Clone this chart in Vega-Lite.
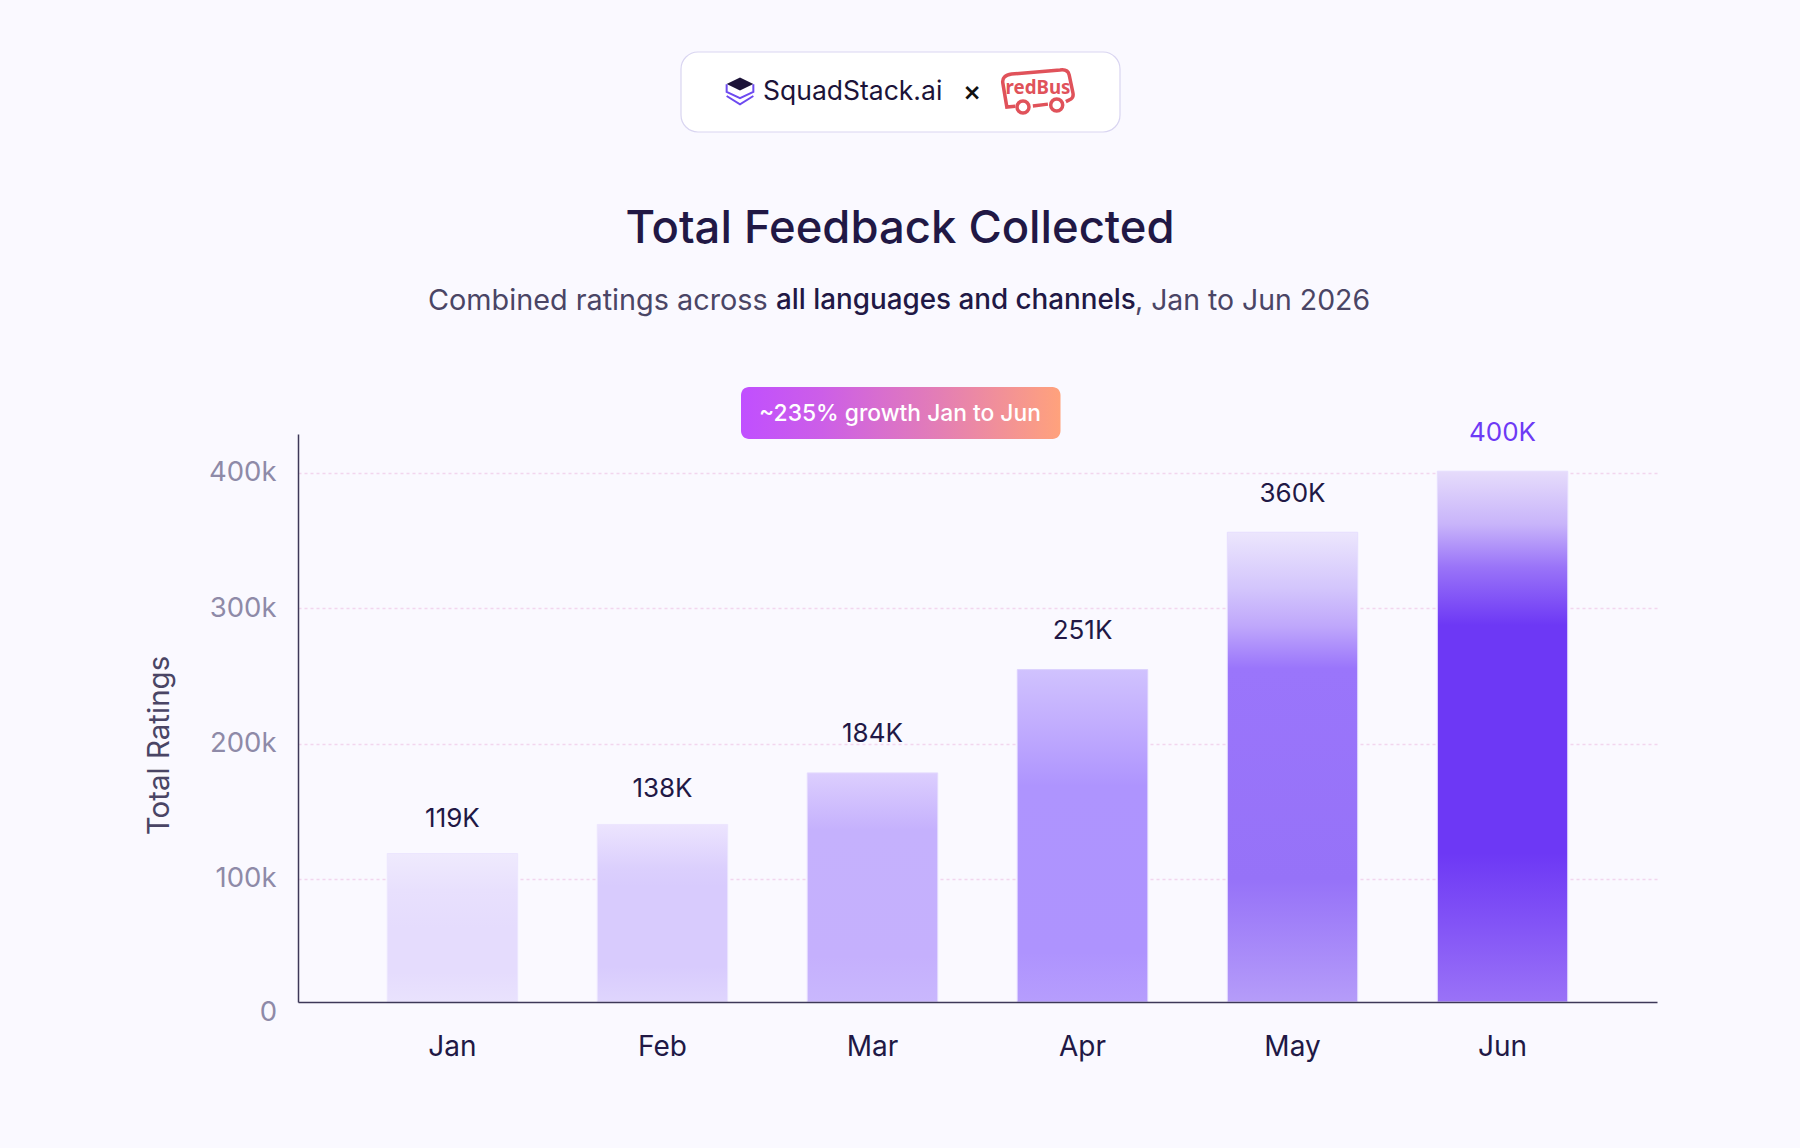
{
  "$schema": "https://vega.github.io/schema/vega-lite/v6.json",
  "width": 1359,
  "height": 568,
  "autosize": "none",
  "padding": {"left": 298, "top": 434, "right": 143, "bottom": 146},
  "background": "#faf9ff",
  "config": {
    "view": {"stroke": null},
    "font": "Inter",
    "text": {"font": "Inter"}
  },
  "resolve": {"scale": {"x": "independent", "y": "independent"}},
  "layer": [
    {
      "data": {
        "values": [
          {"month": "Jan", "value": 118.8, "label": "119K"},
          {"month": "Feb", "value": 140.3, "label": "138K"},
          {"month": "Mar", "value": 178.4, "label": "184K"},
          {"month": "Apr", "value": 254.7, "label": "251K"},
          {"month": "May", "value": 356.2, "label": "360K"},
          {"month": "Jun", "value": 401.3, "label": "400K"}
        ]
      },
      "encoding": {
        "x": {
          "field": "month",
          "type": "nominal",
          "sort": ["Jan", "Feb", "Mar", "Apr", "May", "Jun"],
          "title": null,
          "scale": {"domain": ["Jan", "Feb", "Mar", "Apr", "May", "Jun"], "paddingInner": 0.379, "paddingOuter": 0.425},
          "axis": {
            "zindex": 1,
            "ticks": false,
            "labelAngle": 0,
            "labelFontSize": 28,
            "labelColor": "#211845",
            "labelPadding": 31,
            "labelFont": "Inter",
            "domainColor": "#3d3858",
            "domainWidth": 1.5
          }
        },
        "y": {
          "field": "value",
          "type": "quantitative",
          "scale": {"domain": [9.1, 428.8]},
          "title": "Total Ratings",
          "axis": {
            "zindex": 0,
            "values": [100, 200, 300, 400],
            "labelExpr": "datum.value + 'k'",
            "ticks": false,
            "labelFontSize": 27.5,
            "labelColor": "#8e8aa8",
            "labelPadding": 22,
            "labelOffset": 0,
            "labelFont": "Inter",
            "domainColor": "#3d3858",
            "domainWidth": 1.5,
            "grid": true,
            "gridColor": "#f2d6ee",
            "gridWidth": 1.5,
            "gridDash": [3, 3],
            "titleFont": "Inter",
            "titleFontSize": 29.5,
            "titleFontWeight": 400,
            "titleColor": "#4a4565",
            "titleX": -139,
            "titleY": 311,
            "titleBaseline": "middle"
          }
        }
      },
      "layer": [
        {
          "transform": [{"filter": "datum.month === 'Jan'"}],
          "mark": {"type": "bar", "stroke": "#ece6fe", "strokeWidth": 1, "fill": {"gradient": "linear", "x1": 0, "y1": 0, "x2": 0, "y2": 1, "stops": [
            {"offset": 0, "color": "#efeafd"},
            {"offset": 0.25, "color": "#e8e0fd"},
            {"offset": 0.5, "color": "#e5dcfd"},
            {"offset": 0.8, "color": "#e5dcfd"},
            {"offset": 1, "color": "#e9e2fd"}
          ]}},
          "encoding": {"y2": {"datum": 9.1}}
        },
        {
          "transform": [{"filter": "datum.month === 'Feb'"}],
          "mark": {"type": "bar", "stroke": "#ece6fe", "strokeWidth": 1, "fill": {"gradient": "linear", "x1": 0, "y1": 0, "x2": 0, "y2": 1, "stops": [
            {"offset": 0, "color": "#ece4fe"},
            {"offset": 0.25, "color": "#dbcffd"},
            {"offset": 0.35, "color": "#d8cbfd"},
            {"offset": 0.8, "color": "#d8cbfd"},
            {"offset": 1, "color": "#dfd5fd"}
          ]}},
          "encoding": {"y2": {"datum": 9.1}}
        },
        {
          "transform": [{"filter": "datum.month === 'Mar'"}],
          "mark": {"type": "bar", "stroke": "#e4dafe", "strokeWidth": 1, "fill": {"gradient": "linear", "x1": 0, "y1": 0, "x2": 0, "y2": 1, "stops": [
            {"offset": 0, "color": "#dccefe"},
            {"offset": 0.25, "color": "#c5b1fd"},
            {"offset": 0.8, "color": "#c5b0fd"},
            {"offset": 1, "color": "#c9b7fd"}
          ]}},
          "encoding": {"y2": {"datum": 9.1}}
        },
        {
          "transform": [{"filter": "datum.month === 'Apr'"}],
          "mark": {"type": "bar", "stroke": "#dcd0fe", "strokeWidth": 1, "fill": {"gradient": "linear", "x1": 0, "y1": 0, "x2": 0, "y2": 1, "stops": [
            {"offset": 0, "color": "#d0c2fe"},
            {"offset": 0.15, "color": "#c3affe"},
            {"offset": 0.35, "color": "#ae94fe"},
            {"offset": 0.85, "color": "#ae93fe"},
            {"offset": 1, "color": "#b69dfd"}
          ]}},
          "encoding": {"y2": {"datum": 9.1}}
        },
        {
          "transform": [{"filter": "datum.month === 'May'"}],
          "mark": {"type": "bar", "stroke": "#e6defe", "strokeWidth": 1, "fill": {"gradient": "linear", "x1": 0, "y1": 0, "x2": 0, "y2": 1, "stops": [
            {"offset": 0, "color": "#ece6fd"},
            {"offset": 0.12, "color": "#d3c5fc"},
            {"offset": 0.2, "color": "#bfa7fb"},
            {"offset": 0.29, "color": "#9a75fb"},
            {"offset": 0.74, "color": "#9672f8"},
            {"offset": 1, "color": "#b59cf9"}
          ]}},
          "encoding": {"y2": {"datum": 9.1}}
        },
        {
          "transform": [{"filter": "datum.month === 'Jun'"}],
          "mark": {"type": "bar", "stroke": "#e6defe", "strokeWidth": 1, "fill": {"gradient": "linear", "x1": 0, "y1": 0, "x2": 0, "y2": 1, "stops": [
            {"offset": 0, "color": "#e6dcfb"},
            {"offset": 0.1, "color": "#c8b4fa"},
            {"offset": 0.18, "color": "#9a74f8"},
            {"offset": 0.29, "color": "#6d38f5"},
            {"offset": 0.72, "color": "#6d38f5"},
            {"offset": 1, "color": "#9a72f7"}
          ]}},
          "encoding": {"y2": {"datum": 9.1}}
        },
        {
          "transform": [{"filter": "datum.month === 'Jan' || datum.month === 'Feb'"}],
          "mark": {"type": "text", "dy": -35, "fontSize": 26, "fontWeight": 400, "baseline": "middle", "color": "#211845"},
          "encoding": {"text": {"field": "label"}}
        },
        {
          "transform": [{"filter": "datum.month !== 'Jan' && datum.month !== 'Feb'"}],
          "mark": {"type": "text", "dy": -38.5, "fontSize": 26, "fontWeight": 400, "baseline": "middle"},
          "encoding": {
            "text": {"field": "label"},
            "fontWeight": {"condition": {"test": "datum.month === 'Jun'", "value": 500}, "value": 400},
            "color": {
              "condition": {"test": "datum.month === 'Jun'", "value": "#6d3af5"},
              "value": "#211845"
            }
          }
        }
      ]
    },
    {
      "layer": [
        {
          "data": {"values": [{"text": "0"}]},
          "mark": {"type": "text", "fontSize": 27.5, "fontWeight": 400, "color": "#8e8aa8", "align": "right", "baseline": "middle"},
          "encoding": {
            "text": {"field": "text"},
            "x": {"datum": 277, "type": "quantitative", "axis": null, "scale": {"domain": [0, 1800], "range": [-298, 1502]}},
            "y": {"datum": 1013, "type": "quantitative", "axis": null, "scale": {"domain": [0, 1148], "range": [-434, 714]}}
          }
        },
        {
          "data": {"values": [{"part": "logo card"}]},
          "mark": {"type": "rect", "fill": "#ffffff", "stroke": "#d9d5f1", "strokeWidth": 1.2, "cornerRadius": 17},
          "encoding": {
            "x": {"datum": 681, "type": "quantitative", "axis": null, "scale": {"domain": [0, 1800], "range": [-298, 1502]}},
            "x2": {"datum": 1120},
            "y": {"datum": 52, "type": "quantitative", "axis": null, "scale": {"domain": [0, 1148], "range": [-434, 714]}},
            "y2": {"datum": 132}
          }
        },
        {
          "data": {"values": [{"part": "squadstack icon top"}]},
          "mark": {"type": "point", "shape": "M0,-.84 L.89,-.4 L0,.04 L-.89,-.4 Z", "size": 900, "filled": true, "color": "#1c1338", "opacity": 1},
          "encoding": {
            "x": {"datum": 740, "type": "quantitative", "axis": null, "scale": {"domain": [0, 1800], "range": [-298, 1502]}},
            "y": {"datum": 90, "type": "quantitative", "axis": null, "scale": {"domain": [0, 1148], "range": [-434, 714]}}
          }
        },
        {
          "data": {"values": [{"part": "squadstack icon layers"}]},
          "mark": {"type": "point", "shape": "M-.89,-.38 L-.89,.12 L0,.55 L.89,.12 L.89,-.38 M-.89,.4 L0,.96 L.89,.4", "size": 900, "filled": false, "stroke": "#6d4af0", "strokeWidth": 2, "opacity": 1},
          "encoding": {
            "x": {"datum": 740, "type": "quantitative", "axis": null, "scale": {"domain": [0, 1800], "range": [-298, 1502]}},
            "y": {"datum": 90, "type": "quantitative", "axis": null, "scale": {"domain": [0, 1148], "range": [-434, 714]}}
          }
        },
        {
          "data": {"values": [{"part": "bus body"}]},
          "mark": {"type": "point", "shape": "M-.14,.49 L.27,.44 M.76,.37 L.9,.3 Q.98,.25 .95,.12 L.85,-.36 Q.81,-.52 .6,-.49 L-.72,-.38 Q-.99,-.34 -.96,-.14 L-.85,.52 L-.62,.5", "size": 5378, "filled": false, "stroke": "#e0525a", "strokeWidth": 3.5, "opacity": 1},
          "encoding": {
            "x": {"datum": 1038, "type": "quantitative", "axis": null, "scale": {"domain": [0, 1800], "range": [-298, 1502]}},
            "y": {"datum": 88, "type": "quantitative", "axis": null, "scale": {"domain": [0, 1148], "range": [-434, 714]}}
          }
        },
        {
          "data": {"values": [{"part": "bus wheel"}]},
          "mark": {"type": "point", "shape": "circle", "size": 144, "filled": true, "fill": "#ffffff", "stroke": "#e0525a", "strokeWidth": 3.5, "opacity": 1},
          "encoding": {
            "x": {"datum": 1023, "type": "quantitative", "axis": null, "scale": {"domain": [0, 1800], "range": [-298, 1502]}},
            "y": {"datum": 107, "type": "quantitative", "axis": null, "scale": {"domain": [0, 1148], "range": [-434, 714]}}
          }
        },
        {
          "data": {"values": [{"part": "bus wheel"}]},
          "mark": {"type": "point", "shape": "circle", "size": 144, "filled": true, "fill": "#ffffff", "stroke": "#e0525a", "strokeWidth": 3.5, "opacity": 1},
          "encoding": {
            "x": {"datum": 1056.7, "type": "quantitative", "axis": null, "scale": {"domain": [0, 1800], "range": [-298, 1502]}},
            "y": {"datum": 105, "type": "quantitative", "axis": null, "scale": {"domain": [0, 1148], "range": [-434, 714]}}
          }
        },
        {
          "data": {"values": [{"text": "redBus"}]},
          "mark": {"type": "text", "fontSize": 18.7, "fontWeight": 700, "color": "#e0525a", "font": "Noto Sans", "align": "center", "baseline": "middle"},
          "encoding": {
            "text": {"field": "text"},
            "x": {"datum": 1038, "type": "quantitative", "axis": null, "scale": {"domain": [0, 1800], "range": [-298, 1502]}},
            "y": {"datum": 88, "type": "quantitative", "axis": null, "scale": {"domain": [0, 1148], "range": [-434, 714]}}
          }
        },
        {
          "data": {"values": [{"text": "SquadStack.ai"}]},
          "mark": {"type": "text", "fontSize": 26.5, "fontWeight": 400, "color": "#1c1338", "align": "left", "baseline": "alphabetic"},
          "encoding": {
            "text": {"field": "text"},
            "x": {"datum": 763, "type": "quantitative", "axis": null, "scale": {"domain": [0, 1800], "range": [-298, 1502]}},
            "y": {"datum": 100, "type": "quantitative", "axis": null, "scale": {"domain": [0, 1148], "range": [-434, 714]}}
          }
        },
        {
          "data": {"values": [{"text": "×"}]},
          "mark": {"type": "text", "fontSize": 28, "fontWeight": 500, "color": "#111111", "align": "center", "baseline": "middle"},
          "encoding": {
            "text": {"field": "text"},
            "x": {"datum": 972, "type": "quantitative", "axis": null, "scale": {"domain": [0, 1800], "range": [-298, 1502]}},
            "y": {"datum": 93, "type": "quantitative", "axis": null, "scale": {"domain": [0, 1148], "range": [-434, 714]}}
          }
        },
        {
          "data": {"values": [{"text": "Total Feedback Collected"}]},
          "mark": {"type": "text", "fontSize": 45.4, "fontWeight": 500, "color": "#211845", "align": "center", "baseline": "middle"},
          "encoding": {
            "text": {"field": "text"},
            "x": {"datum": 900, "type": "quantitative", "axis": null, "scale": {"domain": [0, 1800], "range": [-298, 1502]}},
            "y": {"datum": 228.5, "type": "quantitative", "axis": null, "scale": {"domain": [0, 1148], "range": [-434, 714]}}
          }
        },
        {
          "data": {"values": [{"text": "Combined ratings across"}]},
          "mark": {"type": "text", "fontSize": 28.8, "fontWeight": 400, "color": "#4a4565", "align": "left", "baseline": "middle"},
          "encoding": {
            "text": {"field": "text"},
            "x": {"datum": 428, "type": "quantitative", "axis": null, "scale": {"domain": [0, 1800], "range": [-298, 1502]}},
            "y": {"datum": 300.5, "type": "quantitative", "axis": null, "scale": {"domain": [0, 1148], "range": [-434, 714]}}
          }
        },
        {
          "data": {"values": [{"text": "all languages and channels"}]},
          "mark": {"type": "text", "fontSize": 27.8, "fontWeight": 500, "color": "#211845", "align": "left", "baseline": "middle"},
          "encoding": {
            "text": {"field": "text"},
            "x": {"datum": 776, "type": "quantitative", "axis": null, "scale": {"domain": [0, 1800], "range": [-298, 1502]}},
            "y": {"datum": 300.5, "type": "quantitative", "axis": null, "scale": {"domain": [0, 1148], "range": [-434, 714]}}
          }
        },
        {
          "data": {"values": [{"text": ", Jan to Jun 2026"}]},
          "mark": {"type": "text", "fontSize": 28.4, "fontWeight": 400, "color": "#4a4565", "align": "left", "baseline": "middle"},
          "encoding": {
            "text": {"field": "text"},
            "x": {"datum": 1135, "type": "quantitative", "axis": null, "scale": {"domain": [0, 1800], "range": [-298, 1502]}},
            "y": {"datum": 300.5, "type": "quantitative", "axis": null, "scale": {"domain": [0, 1148], "range": [-434, 714]}}
          }
        },
        {
          "data": {"values": [{"part": "growth badge"}]},
          "mark": {
            "type": "rect",
            "cornerRadius": 8,
            "fill": {"gradient": "linear", "x1": 0, "y1": 0, "x2": 1, "y2": 0, "stops": [
              {"offset": 0, "color": "#c04fff"},
              {"offset": 0.25, "color": "#cc5ee8"},
              {"offset": 0.6, "color": "#e27cb8"},
              {"offset": 1, "color": "#ffa27c"}
            ]}
          },
          "encoding": {
            "x": {"datum": 741, "type": "quantitative", "axis": null, "scale": {"domain": [0, 1800], "range": [-298, 1502]}},
            "x2": {"datum": 1060.5},
            "y": {"datum": 387, "type": "quantitative", "axis": null, "scale": {"domain": [0, 1148], "range": [-434, 714]}},
            "y2": {"datum": 439}
          }
        },
        {
          "data": {"values": [{"text": "~235% growth Jan to Jun"}]},
          "mark": {"type": "text", "fontSize": 22.8, "fontWeight": 500, "color": "#ffffff", "align": "center", "baseline": "middle"},
          "encoding": {
            "text": {"field": "text"},
            "x": {"datum": 900, "type": "quantitative", "axis": null, "scale": {"domain": [0, 1800], "range": [-298, 1502]}},
            "y": {"datum": 414, "type": "quantitative", "axis": null, "scale": {"domain": [0, 1148], "range": [-434, 714]}}
          }
        }
      ]
    }
  ]
}
